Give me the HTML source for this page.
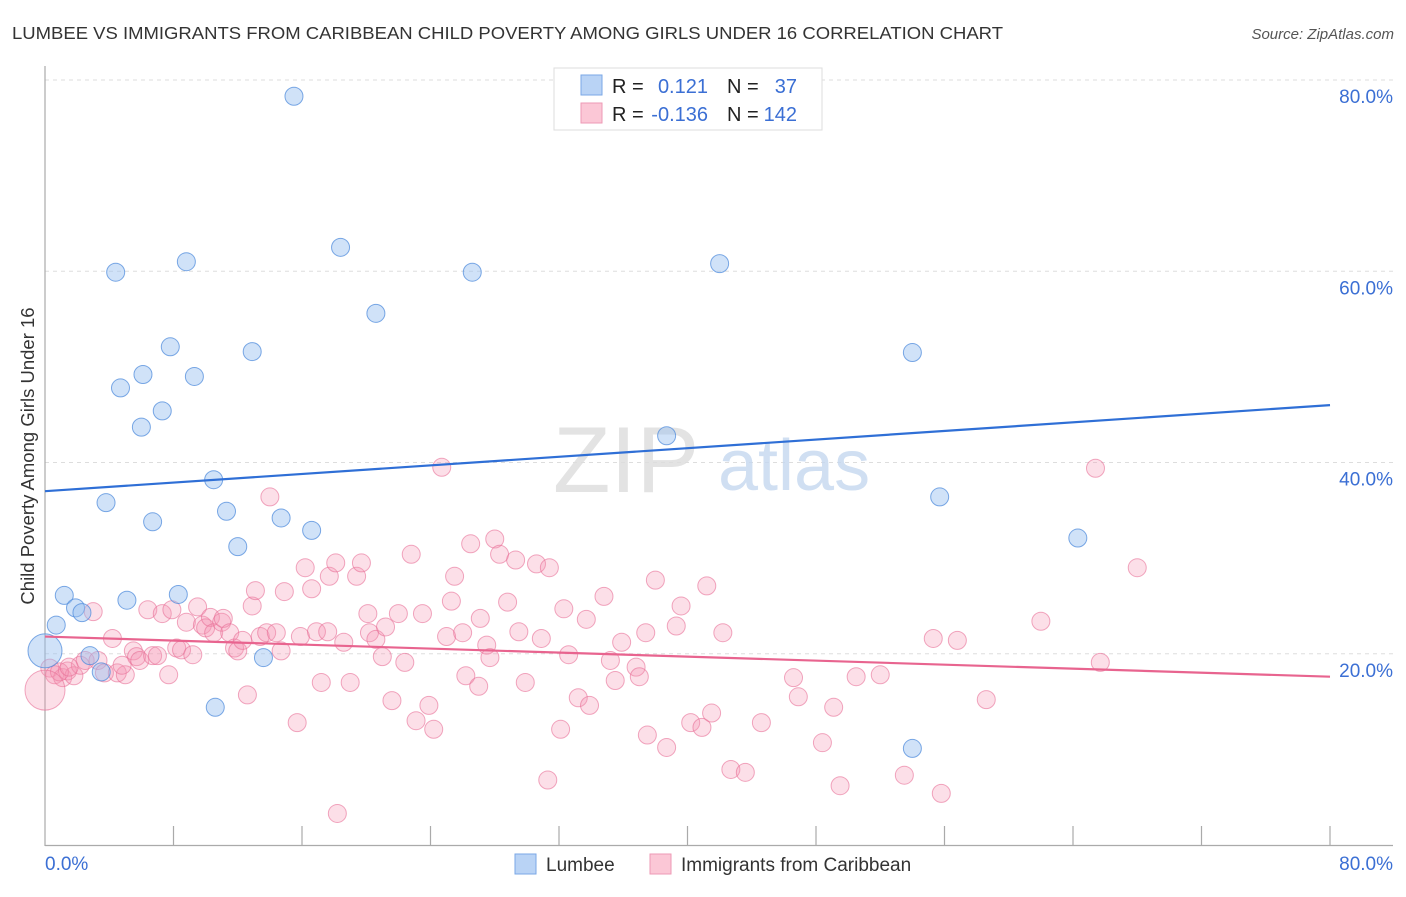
<!DOCTYPE html>
<html><head><meta charset="utf-8"><style>
body{margin:0;background:#fff;font-family:"Liberation Sans",sans-serif;}
svg text{font-family:"Liberation Sans",sans-serif;}
</style></head><body>
<svg id="chart" width="1406" height="892" viewBox="0 0 1406 892" xmlns="http://www.w3.org/2000/svg">
<text x="12" y="39" font-size="17.5" fill="#333" textLength="991" lengthAdjust="spacingAndGlyphs">LUMBEE VS IMMIGRANTS FROM CARIBBEAN CHILD POVERTY AMONG GIRLS UNDER 16 CORRELATION CHART</text>
<text x="1394" y="39" font-size="15" fill="#555" text-anchor="end" font-style="italic">Source: ZipAtlas.com</text>
<g id="grid"></g>
<text x="553" y="492" font-size="94" fill="#ddd" font-family="Liberation Serif" opacity="0.8">ZIP</text>
<text x="718" y="490" font-size="72" fill="#c5d8f0" opacity="0.8">atlas</text>
<g id="axes"></g>
<g id="pink"></g>
<g id="blue"></g>
<g id="trends"></g>
<text transform="translate(34,456) rotate(-90)" font-size="18.5" fill="#333" text-anchor="middle">Child Poverty Among Girls Under 16</text>
<g>
<rect x="554" y="68" width="268" height="62" fill="#fff" stroke="#ddd"/>
<rect x="581" y="75" width="21" height="20" fill="#b9d3f5" stroke="#7aa7e6"/>
<rect x="581" y="103" width="21" height="20" fill="#fbc7d6" stroke="#ee9ab5"/>
<text x="612" y="93" font-size="20" fill="#222">R =</text>
<text x="708" y="93" font-size="20" fill="#3b6fd4" text-anchor="end">0.121</text>
<text x="727" y="93" font-size="20" fill="#222">N =</text>
<text x="797" y="93" font-size="20" fill="#3b6fd4" text-anchor="end">37</text>
<text x="612" y="121" font-size="20" fill="#222">R =</text>
<text x="708" y="121" font-size="20" fill="#3b6fd4" text-anchor="end">-0.136</text>
<text x="727" y="121" font-size="20" fill="#222">N =</text>
<text x="797" y="121" font-size="20" fill="#3b6fd4" text-anchor="end">142</text>
</g>
<g>
<rect x="515" y="854" width="21" height="20" fill="#b9d3f5" stroke="#7aa7e6"/>
<text x="546" y="871" font-size="19" fill="#333">Lumbee</text>
<rect x="650" y="854" width="21" height="20" fill="#fbc7d6" stroke="#ee9ab5"/>
<text x="681" y="871" font-size="19" fill="#333">Immigrants from Caribbean</text>
</g>
</svg>
<script>
const blueX=[15.5,4.4,8.8,18.4,26.6,42.0,20.6,7.8,12.9,54.0,6.1,9.3,4.7,7.3,6.0,38.7,10.5,3.8,55.7,11.3,14.7,6.7,16.6,12.0,64.3,1.2,5.1,8.3,1.9,2.3,0.7,2.8,0,3.5,13.6,10.6,54.0];
const blueY=[78.3,59.9,61.0,62.5,59.9,60.8,55.6,52.1,51.6,51.5,49.2,49.0,47.8,45.4,43.7,42.8,38.2,35.8,36.4,34.9,34.2,33.8,32.9,31.2,32.1,26.1,25.6,26.2,24.8,24.3,23.0,19.8,20.3,18.1,19.6,14.4,10.1];
const pinkX=[0.3,0.6,1.1,1.4,1.8,2.2,2.5,3.0,3.3,3.7,4.2,4.5,5.0,4.8,5.5,5.7,5.9,6.4,6.7,7.0,7.3,7.7,7.9,8.2,8.5,8.8,9.2,9.5,9.8,10.0,10.3,10.5,11.0,11.1,11.5,11.8,12.0,12.3,12.6,12.9,13.1,13.4,13.8,14.0,14.4,14.7,14.9,15.7,15.9,16.2,16.6,16.9,17.2,17.6,17.7,18.1,18.6,19.0,19.4,19.7,20.1,20.2,20.6,21.0,21.2,21.6,22.0,22.4,22.8,23.1,23.5,23.9,24.2,24.7,25.0,25.3,25.5,26.0,26.2,26.5,27.0,27.1,27.5,27.7,28.0,28.3,28.8,29.3,29.5,29.9,30.6,30.9,31.3,31.4,32.1,32.3,32.6,33.2,33.7,33.9,34.8,35.2,35.5,35.9,36.8,37.0,37.4,37.5,38.0,38.7,39.3,39.6,40.2,40.9,41.2,41.5,42.2,42.7,43.6,44.6,46.6,46.9,48.4,49.1,49.5,50.5,52.0,53.5,55.3,55.8,56.8,58.6,62.0,65.4,65.7,68.0,0.9,1.5,18.2,0];
const pinkY=[18.5,17.8,17.5,18.2,17.7,18.8,19.3,24.4,19.3,18.0,21.6,18.0,17.8,18.8,20.3,19.7,19.3,24.6,19.8,19.8,24.2,17.8,24.6,20.6,20.4,23.3,19.9,24.9,23.0,22.7,23.8,22.2,23.3,23.7,22.2,20.6,20.3,21.4,15.7,25.0,26.6,21.8,22.2,36.4,22.2,20.3,26.5,12.8,21.8,29.0,26.8,22.3,17.0,22.3,28.1,29.5,21.2,17.0,28.1,29.5,24.2,22.2,21.5,19.7,22.8,15.1,24.2,19.1,30.4,13.0,24.2,14.6,12.1,39.5,21.8,25.5,28.1,22.2,17.7,31.5,16.6,23.7,20.9,19.6,32.0,30.4,25.4,29.8,22.3,17.0,29.4,21.6,6.8,29.0,12.1,24.7,19.9,15.4,23.6,14.6,26.0,19.3,17.2,21.2,18.6,17.6,22.2,11.5,27.7,10.2,22.9,25.0,12.8,12.3,27.1,13.8,22.2,7.9,7.6,12.8,17.5,15.5,10.7,14.4,6.2,17.6,17.8,7.3,21.6,5.4,21.4,15.2,23.4,39.4,19.1,29.0,18.1,18.6,3.3,16.2];
const blueTrend=[37.0,46.0];
const pinkTrend=[21.8,17.6];
const yTicks=[20,40,60,80];
const xTicksLabels=["0.0%","80.0%"];

const NS="http://www.w3.org/2000/svg";
const X0=45,X1=1330,Y0=845,Y80=80;
const sx=v=>X0+(v/80)*(X1-X0);
const sy=v=>Y0-(v/80)*(Y0-Y80);
function mk(tag,attrs,parent){const e=document.createElementNS(NS,tag);for(const k in attrs)e.setAttribute(k,attrs[k]);parent.appendChild(e);return e;}

const grid=document.getElementById('grid');
yTicks.forEach(t=>{
  const l=mk('line',{x1:45,x2:1393,y1:sy(t),y2:sy(t),stroke:'#ddd','stroke-dasharray':'4,4'},grid);
  
  
  const tx=mk('text',{x:1393,y:sy(t)+23,'font-size':19,fill:'#3b6fd4','text-anchor':'end'},grid);
  tx.textContent=t.toFixed(1)+'%';
  
  
});
const axes=document.getElementById('axes');
mk('line',{x1:45,x2:45,y1:66,y2:846,stroke:'#aaa','stroke-width':1.2},axes);
mk('line',{x1:45,x2:1393,y1:845.5,y2:845.5,stroke:'#aaa','stroke-width':1.2},axes);
for(let i=1;i<=10;i++){const x=sx(i*8);mk('line',{x1:x,x2:x,y1:826,y2:845,stroke:'#aaa','stroke-width':1.2},axes);}
const xl0=mk('text',{x:45,y:870,'font-size':19,fill:'#3b6fd4'},axes);xl0.textContent=xTicksLabels[0];


const xl1=mk('text',{x:1393,y:870,'font-size':19,fill:'#3b6fd4','text-anchor':'end'},axes);xl1.textContent=xTicksLabels[1];



const pg=document.getElementById('pink');
pinkX.forEach((v,i)=>{
  const big=(i===pinkX.length-1);
  const c=mk('circle',{cx:sx(v),cy:sy(pinkY[i]),r:big?20:9,fill:'rgba(244,150,180,0.3)',stroke:'rgba(232,110,150,0.6)','stroke-width':1},pg);
  
  
});
const bg=document.getElementById('blue');
blueX.forEach((v,i)=>{
  const big=(i===32);
  const c=mk('circle',{cx:sx(v),cy:sy(blueY[i]),r:big?17:9,fill:'rgba(150,190,240,0.45)',stroke:'rgba(80,140,220,0.75)','stroke-width':1},bg);
  
  
});
const tg=document.getElementById('trends');
const bl=mk('line',{x1:sx(0),y1:sy(blueTrend[0]),x2:sx(80),y2:sy(blueTrend[1]),stroke:'#2f6fd6','stroke-width':2.2},tg);


const pl=mk('line',{x1:sx(0),y1:sy(pinkTrend[0]),x2:sx(80),y2:sy(pinkTrend[1]),stroke:'#e8648f','stroke-width':2.2},tg);


</script>
</body></html>
